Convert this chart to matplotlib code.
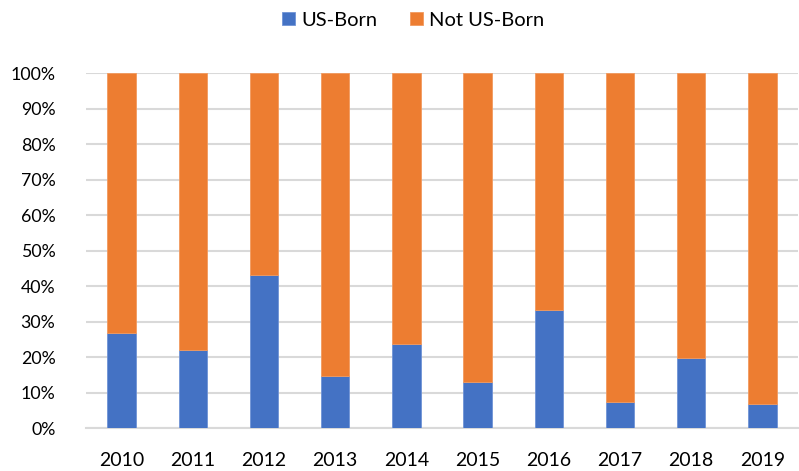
import matplotlib
matplotlib.use("Agg")
import matplotlib.pyplot as plt
import numpy as np

years = ["2010", "2011", "2012", "2013", "2014", "2015", "2016", "2017", "2018", "2019"]
us_born = [26.7, 22.1, 43.3, 14.6, 23.7, 13.1, 33.2, 7.5, 19.9, 6.9]
not_us_born = [100 - v for v in us_born]
yticks = [0, 10, 20, 30, 40, 50, 60, 70, 80, 90, 100]

plt.rcParams['font.family'] = ['Lato', 'DejaVu Sans']

fig = plt.figure(figsize=(7.99, 4.71), dpi=100)
ax = fig.add_axes([0.1076, 0.0907, 0.8911, 0.7537])

x = np.arange(len(years))
blue = "#4472C4"
orange = "#ED7D31"
b1 = ax.bar(x, us_born, width=0.4, color=blue, edgecolor="#6f93d6", linewidth=0.6, label="US-Born", zorder=3)
b2 = ax.bar(x, not_us_born, bottom=us_born, width=0.4, color=orange, edgecolor="#f29a5e", linewidth=0.6, label="Not US-Born", zorder=3)

ax.set_xlim(-0.5, len(years) - 0.5)
ax.set_ylim(0, 100)
ax.set_yticks(yticks)
ax.set_yticklabels([f"{v}%" for v in yticks])
ax.set_xticks(x)
ax.set_xticklabels(years)
ax.yaxis.grid(True, color="#d9d9d9", linewidth=1.5, zorder=0)
ax.set_axisbelow(True)
for s in ["top", "right", "left"]:
    ax.spines[s].set_visible(False)
ax.spines["bottom"].set_color("#d9d9d9")
ax.spines["bottom"].set_linewidth(1.5)
ax.tick_params(axis="both", length=0, colors="#000000")
ax.tick_params(axis="y", pad=22, labelsize=12.8)
ax.tick_params(axis="x", pad=17, labelsize=14)

fig.legend(handles=[b1, b2], labels=["US-Born", "Not US-Born"], loc="center", bbox_to_anchor=(0.517, 0.957),
           ncol=2, frameon=False, fontsize=14.5, handlelength=0.65, handleheight=0.65, handletextpad=0.3, columnspacing=1.6)

fig.savefig("out.png", dpi=100, facecolor="white")
